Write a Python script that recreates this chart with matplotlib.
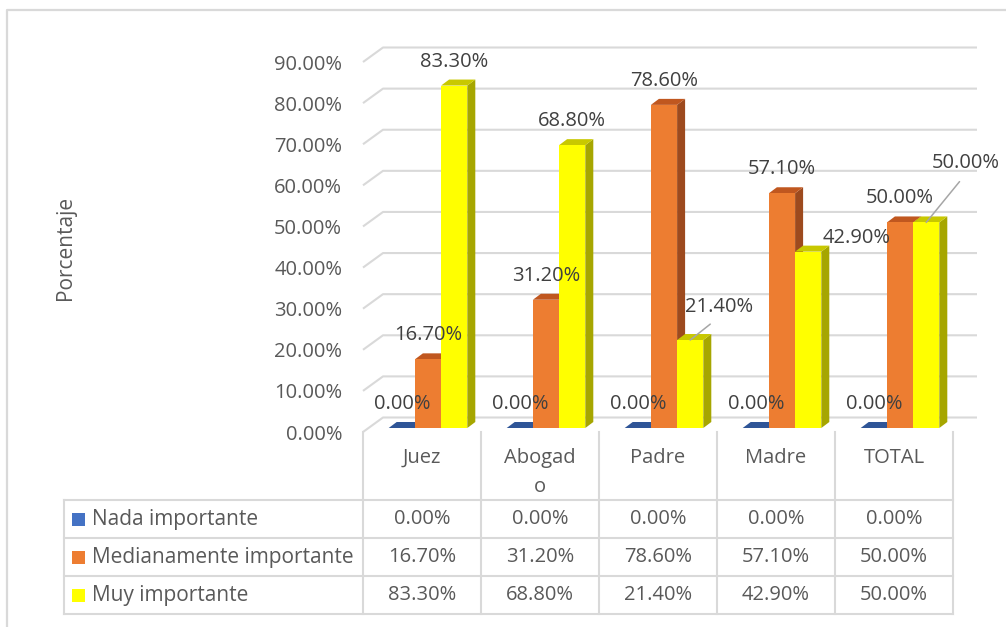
import matplotlib
matplotlib.use('Agg')
import matplotlib.pyplot as plt
from matplotlib.patches import Polygon, Rectangle
from matplotlib.lines import Line2D

# ---------------- data ----------------
categories = ['Juez', 'Abogado', 'Padre', 'Madre', 'TOTAL']
header_labels = ['Juez', 'Abogad\no', 'Padre', 'Madre', 'TOTAL']
series_names = ['Nada importante', 'Medianamente importante', 'Muy importante']
nada = [0.0, 0.0, 0.0, 0.0, 0.0]
mediana = [16.7, 31.2, 78.6, 57.1, 50.0]
muy = [83.3, 68.8, 21.4, 42.9, 50.0]
y_ticks = [0, 10, 20, 30, 40, 50, 60, 70, 80, 90]
y_title = 'Porcentaje'

series = [nada, mediana, muy]
front_colors = ['#4472C4', '#ED7D31', '#FFFF00']
top_colors = ['#2F5597', '#C0571F', '#C8C800']
side_colors = ['#2A4C8A', '#9D4A1E', '#A6A600']

plt.rcParams['font.family'] = ['Open Sans', 'DejaVu Sans']
FS = 14.5
FS_LEG = 15
TXT = '#595959'
LBL = '#404040'
GRID = '#D9D9D9'

W, H = 1006, 627
fig = plt.figure(figsize=(W / 100, H / 100), dpi=100)
fig.patch.set_facecolor('white')


def px_axes(x0, y0, x1, y1):
    return fig.add_axes([x0 / W, 1 - y1 / H, (x1 - x0) / W, (y1 - y0) / H])


# outer frame (left + top)
fig.add_artist(Line2D([7 / W, 7 / W, 1.0], [0, 1 - 10 / H, 1 - 10 / H],
                      transform=fig.transFigure, color=GRID, lw=1.6))

# ---------------- chart axes ----------------
PX_X = 118.0           # pixels per category
PX_Y = 4.111           # pixels per percentage point
AX_TOP = 30
ax = px_axes(363, AX_TOP, 953, 432)
ax.set_xlim(-0.5, 4.5)
ax.set_ylim(0, (432 - AX_TOP) / PX_Y)
ax.set_facecolor('none')
for s in ax.spines.values():
    s.set_visible(False)
ax.set_xticks([])
ax.set_yticks(y_ticks)
ax.set_yticklabels(['%.2f%%' % v for v in y_ticks], color=TXT, fontsize=FS)
ax.tick_params(axis='y', length=0, pad=15)

# walls / gridlines (depth 20 px right, 14.5 px up)
wdx, wdy = 20 / PX_X, 14.5 / PX_Y
x_right = 4.5 + 24 / PX_X
for v in y_ticks:
    ax.plot([-0.5, -0.5 + wdx, x_right], [v, v + wdy, v + wdy],
            color=GRID, lw=1.5, zorder=1, clip_on=False, solid_capstyle='butt')

# bars
bw = 26.2 / PX_X
off_x, off_y = 6 / PX_X, 4 / PX_Y      # bar plane depth position
bdx, bdy = 8 / PX_X, 6 / PX_Y          # bar depth
n = len(series)
label_pts = {}
z = 3
for ci in range(len(categories)):
    for si in range(n):
        v = series[si][ci]
        x0 = ci - n * bw / 2 + si * bw + off_x
        x1 = x0 + bw
        y0 = off_y
        y1 = off_y + v
        # side
        ax.add_patch(Polygon([(x1, y0), (x1, y1), (x1 + bdx, y1 + bdy), (x1 + bdx, y0 + bdy)],
                             closed=True, facecolor=side_colors[si], edgecolor='none',
                             zorder=z, clip_on=False))
        # top
        ax.add_patch(Polygon([(x0, y1), (x1, y1), (x1 + bdx, y1 + bdy), (x0 + bdx, y1 + bdy)],
                             closed=True, facecolor=top_colors[si], edgecolor='none',
                             zorder=z, clip_on=False))
        # front
        ax.bar(x0, v, width=bw, bottom=y0, align='edge', color=front_colors[si],
               edgecolor='none', zorder=z + 0.5, clip_on=False)
        z += 1
        label_pts[(si, ci)] = ((x0 + x1) / 2, y1)

# data labels (offsets in pixels from bar top centre)
special = {(2, 2): (29, 33, True), (2, 3): (48, 14, False), (2, 4): (40, 59, True)}
for (si, ci), (xc, yt) in label_pts.items():
    v = series[si][ci]
    txt = '%.2f%%' % v
    if (si, ci) in special:
        dxp, dyp, leader = special[(si, ci)]
        if leader:
            ax.annotate(txt, (xc, yt), xytext=(dxp * 0.72, dyp * 0.72),
                        textcoords='offset points', ha='center', va='center',
                        color=LBL, fontsize=FS, zorder=50, annotation_clip=False,
                        arrowprops=dict(arrowstyle='-', color='#A6A6A6', lw=1.1,
                                        relpos=(0.5, 0.0), shrinkA=5, shrinkB=0))
        else:
            ax.annotate(txt, (xc, yt), xytext=(dxp * 0.72, dyp * 0.72),
                        textcoords='offset points', ha='center', va='center',
                        color=LBL, fontsize=FS, zorder=50, annotation_clip=False)
    else:
        ax.annotate(txt, (xc, yt), xytext=(0, 24 * 0.72),
                    textcoords='offset points', ha='center', va='center',
                    color=LBL, fontsize=FS, zorder=50, annotation_clip=False)

fig.text(66 / W, 1 - 248 / H, y_title, rotation=90, ha='center', va='center',
         color=TXT, fontsize=FS_LEG)

# ---------------- data table ----------------
tax = px_axes(363, 432, 953, 614)
tax.set_xlim(-0.5, 4.5)
tax.set_ylim(182, 0)
tax.axis('off')
x_leg = (64 - 363) / PX_X - 0.5
rows_y = [68, 106, 144, 182]
for k in range(len(categories) + 1):
    tax.plot([k - 0.5, k - 0.5], [0, 182], color=GRID, lw=1.5, clip_on=False)
for yy in rows_y:
    tax.plot([x_leg, 4.5], [yy, yy], color=GRID, lw=1.5, clip_on=False)
tax.plot([x_leg, x_leg], [68, 182], color=GRID, lw=1.5, clip_on=False)

for ci, lab in enumerate(header_labels):
    for k, line in enumerate(lab.split('\n')):
        tax.text(ci, 26 + 29 * k, line, ha='center', va='center', color=TXT, fontsize=FS)

for si in range(n):
    yc = (rows_y[si] + rows_y[si + 1]) / 2
    for ci in range(len(categories)):
        tax.text(ci, yc, '%.2f%%' % series[si][ci], ha='center', va='center',
                 color=TXT, fontsize=FS)
    mx = (72 - 363) / PX_X - 0.5
    tax.add_patch(Rectangle((mx, yc - 6.5), 13 / PX_X, 13, facecolor=front_colors[si],
                            edgecolor='none', clip_on=False))
    tax.text((92 - 363) / PX_X - 0.5, yc, series_names[si], ha='left', va='center',
             color=TXT, fontsize=FS_LEG)

fig.savefig('out.png', dpi=100, facecolor='white')
